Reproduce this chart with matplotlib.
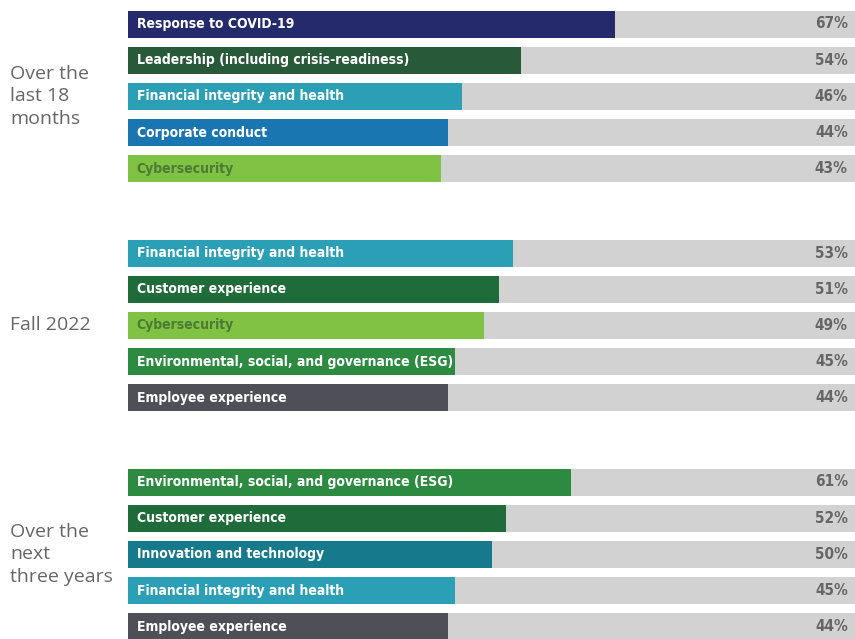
import matplotlib.pyplot as plt
from matplotlib import font_manager

# data
groups = ["Over the\nlast 18\nmonths", "Fall 2022", "Over the\nnext\nthree years"]
labels = [
    ["Response to COVID-19", "Leadership (including crisis-readiness)",
     "Financial integrity and health", "Corporate conduct", "Cybersecurity"],
    ["Financial integrity and health", "Customer experience", "Cybersecurity",
     "Environmental, social, and governance (ESG)", "Employee experience"],
    ["Environmental, social, and governance (ESG)", "Customer experience",
     "Innovation and technology", "Financial integrity and health",
     "Employee experience"],
]
values = [
    [67, 54, 46, 44, 43],
    [53, 51, 49, 45, 44],
    [61, 52, 50, 45, 44],
]

colors = {
    "Response to COVID-19": "#252a6c",
    "Leadership (including crisis-readiness)": "#285a3a",
    "Financial integrity and health": "#2a9fb6",
    "Corporate conduct": "#1976b0",
    "Cybersecurity": "#80c243",
    "Customer experience": "#1f6b3a",
    "Environmental, social, and governance (ESG)": "#2d8b41",
    "Employee experience": "#4f4f57",
    "Innovation and technology": "#17798c",
}

# condensed face if one is installed
cond = [f for f in font_manager.fontManager.ttflist
        if "condensed" in f.fname.lower() and "bold" in f.fname.lower()]
if cond:
    narrow_prop = font_manager.FontProperties(fname=cond[0].fname, size=10)
    pct_prop = font_manager.FontProperties(fname=cond[0].fname, size=11)
else:
    narrow_prop = font_manager.FontProperties(family="DejaVu Sans", weight="bold", size=9)
    pct_prop = font_manager.FontProperties(family="DejaVu Sans", weight="bold", size=10)

W, H = 855, 639
fig = plt.figure(figsize=(W / 100, H / 100), dpi=100)
x0 = 128
ax = fig.add_axes([x0 / W, 0, 1 - x0 / W, 1])
ax.set_xlim(0, 100)
ax.set_ylim(H, 0)
ax.set_axis_off()

bar_h = 27
step = 36.2
group_step = 229
first = 24

for g, (glabel, labs, vals) in enumerate(zip(groups, labels, values)):
    centers = [first + g * group_step + i * step for i in range(len(vals))]
    ax.barh(centers, [100] * len(vals), height=bar_h, color="#d2d2d2")
    for c, lab, v in zip(centers, labs, vals):
        ax.barh(c, v, height=bar_h, color=colors[lab])
        tcol = "#4d7a35" if lab == "Cybersecurity" else "white"
        ax.text(1.2, c, lab, va="center", ha="left", color=tcol,
                fontproperties=narrow_prop)
        ax.text(99, c, f"{v}%", va="center", ha="right", color="#666666",
                fontproperties=pct_prop)
    mid = (centers[0] + centers[-1]) / 2
    fig.text(10 / W, 1 - mid / H, glabel, ha="left", va="center",
             fontsize=14, color="#666666", family="Open Sans", linespacing=1.3)

fig.savefig("out.png", dpi=100, facecolor="white")
